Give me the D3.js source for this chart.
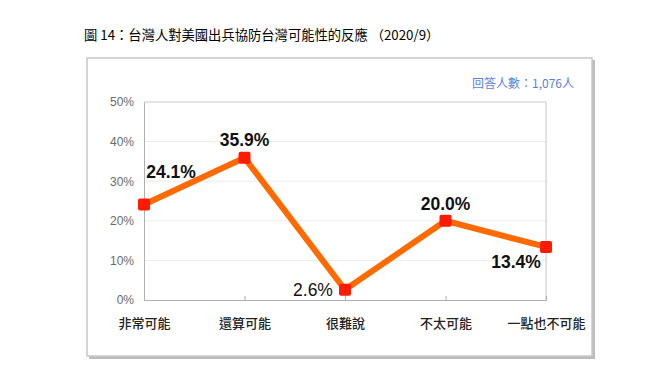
<!DOCTYPE html>
<html><head><meta charset="utf-8">
<script src="https://cdn.jsdelivr.net/npm/d3@7"></script>
<style>body{margin:0;background:#fff;}svg{display:block;}</style>
</head><body>
<svg id="c" width="649" height="392"></svg>
<script>
const categories = ["非常可能","還算可能","很難說","不太可能","一點也不可能"];
const values = [24.1, 35.9, 2.6, 20.0, 13.4];
const labels = ["24.1%","35.9%","2.6%","20.0%","13.4%"];
const yTicks = [0,10,20,30,40,50];
const title = "圖 14：台灣人對美國出兵協防台灣可能性的反應 （2020/9）";
const note = "回答人數：1,076人";

const svg = d3.select("#c");
const cjk = "'Noto Sans CJK TC', 'Noto Sans', sans-serif";
const arial = "'Liberation Sans', Arial, sans-serif";

// title
svg.append("text").attr("x",84).attr("y",40).attr("font-family",cjk)
  .attr("font-size",13.3).attr("fill","#000").text(title);

// frame with shadow
svg.append("rect").attr("x",89).attr("y",60).attr("width",506).attr("height",299).attr("fill","#bdbdbd");
svg.append("rect").attr("x",87).attr("y",58).attr("width",505).attr("height",298)
  .attr("fill","#fff").attr("stroke","#c8c8c8").attr("stroke-width",1.5);

svg.append("text").attr("x",574).attr("y",88).attr("text-anchor","end")
  .attr("font-family",cjk).attr("font-size",12).attr("fill","#5b7fdc").text(note);

const x = d3.scalePoint().domain(categories).range([144,546]);
const y = d3.scaleLinear().domain([0,50]).range([300,102]);

// gridlines
svg.append("g").selectAll("line").data(yTicks.filter(d=>d>0)).join("line")
  .attr("x1",144).attr("x2",546).attr("y1",d=>y(d)).attr("y2",d=>y(d))
  .attr("stroke",d=>d===50?"#c8c8c8":"#ececec").attr("stroke-width",1);
svg.append("line").attr("x1",546).attr("x2",546).attr("y1",y(50)).attr("y2",y(0)).attr("stroke","#c8c8c8");

// y axis
const yAxis = d3.axisLeft(y).tickValues(yTicks).tickFormat(d=>d+"%").tickSize(0).tickPadding(10);
const gy = svg.append("g").attr("transform","translate(144,0)").call(yAxis);
gy.select(".domain").attr("stroke","#b0b0b0");
gy.selectAll("text").attr("font-family",arial).attr("font-size",12).attr("fill","#6a6a6a");

// x axis
const xAxis = d3.axisBottom(x).tickSize(-4).tickPadding(16);
const gx = svg.append("g").attr("transform","translate(0,300)").call(xAxis);
gx.select(".domain").attr("stroke","#b0b0b0");
gx.selectAll(".tick line").attr("stroke","#b0b0b0");
gx.selectAll("text").attr("font-family",cjk).attr("font-size",13).attr("font-weight",500)
  .attr("fill","#222").attr("dy","0.9em");

// line
const line = d3.line().x((d,i)=>x(categories[i])).y(d=>y(d));
svg.append("path").datum(values).attr("d",line).attr("fill","none")
  .attr("stroke","#ff6a00").attr("stroke-width",6).attr("stroke-linejoin","miter");

// markers
svg.append("g").selectAll("rect").data(values).join("rect")
  .attr("x",(d,i)=>x(categories[i])-6).attr("y",d=>y(d)-6)
  .attr("width",12).attr("height",12).attr("rx",2).attr("fill","#ff1a00");

// data labels
const offs = [[27,-27,true],[0,-12,true],[-32,6,false],[0,-11,true],[-30,21,true]];
svg.append("g").selectAll("text").data(values).join("text")
  .attr("x",(d,i)=>x(categories[i])+offs[i][0]).attr("y",(d,i)=>y(d)+offs[i][1])
  .attr("text-anchor","middle").attr("font-family",arial).attr("font-size",17.5)
  .attr("font-weight",(d,i)=>offs[i][2]?"bold":"normal").attr("fill","#111")
  .text((d,i)=>labels[i]);
</script>
</body></html>
